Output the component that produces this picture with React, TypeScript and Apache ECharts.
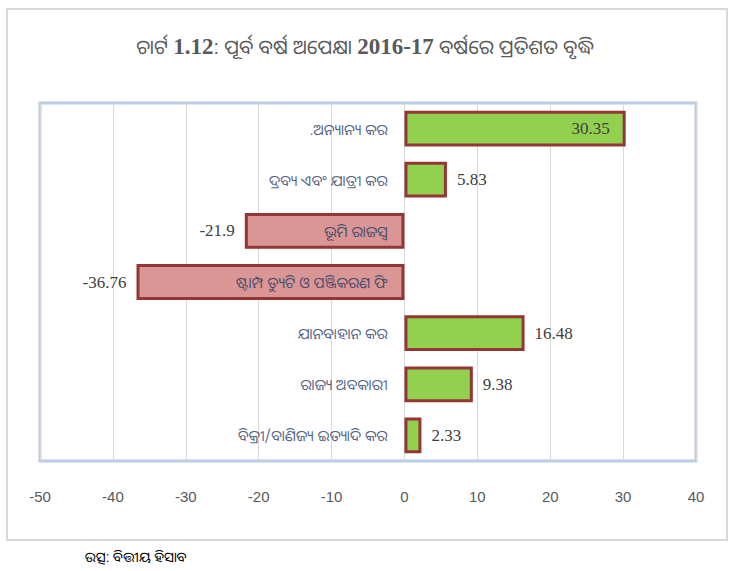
import React, { useEffect, useRef } from "react";
import * as echarts from "echarts";

const categories = [
  ".ଅନ୍ୟାନ୍ୟ କର",
  "ଦ୍ରବ୍ୟ ଏବଂ ଯାତ୍ରୀ କର",
  "ଭୂମି ରାଜସ୍ୱ",
  "ଷ୍ଟାମ୍ପ ଡ୍ୟୁଟି ଓ ପଞ୍ଜିକରଣ ଫି",
  "ଯାନବାହାନ କର",
  "ରାଜ୍ୟ ଅବକାରୀ",
  "ବିକ୍ରୀ/ବାଣିଜ୍ୟ ଇତ୍ୟାଦି କର",
];
const growth = [30.35, 5.83, -21.9, -36.76, 16.48, 9.38, 2.33];
const xTicks = { min: -50, max: 40, interval: 10 };

const ODIA_FONT = "'Noto Sans Oriya', 'Noto Sans', 'DejaVu Sans', sans-serif";

export default function App() {
  const ref = useRef<HTMLDivElement>(null);
  useEffect(() => {
    if (!ref.current) return;
    const chart = echarts.init(ref.current, null, { renderer: "svg" });
    const data = growth.map((v, i) => ({
      value: v,
      itemStyle: { color: v >= 0 ? "#92D050" : "#D99694" },
      label: {
        position: i === 0 ? "insideRight" : v >= 0 ? "right" : "left",
        distance: i === 0 ? 16 : 10,
      },
    }));
    const catLabels = categories.map((c) => [0, c]);
    chart.setOption({
      animation: false,
      backgroundColor: "#ffffff",
      title: {
        text:
          "{o|ଚାର୍ଟ }{b|1.12}{o|: ପୂର୍ବ ବର୍ଷ ଅପେକ୍ଷା }{b|2016-17}{o| ବର୍ଷରେ ପ୍ରତିଶତ ବୃଦ୍ଧି}",
        left: "center",
        top: 30,
        textStyle: {
          rich: {
            o: { fontFamily: ODIA_FONT, fontSize: 20, fontWeight: "normal", color: "#595959" },
            b: {
              fontFamily: "'Liberation Serif', 'Times New Roman', serif",
              fontSize: 23,
              fontWeight: "bold",
              color: "#595959",
            },
          },
        },
      },
      graphic: [
        {
          type: "rect",
          shape: { x: 7, y: 9, width: 720, height: 531 },
          style: { fill: "none", stroke: "#d9d9d9", lineWidth: 2 },
          silent: true,
          z: -1,
        },
        {
          type: "text",
          left: 85,
          top: 549,
          style: {
            text: "ଉତ୍ସ: ବିତ୍ତୀୟ ହିସାବ",
            fontFamily: ODIA_FONT,
            fontSize: 14,
            fill: "#000000",
          },
        },
      ],
      grid: {
        left: 40,
        right: 34,
        top: 103,
        bottom: 110,
        show: true,
        borderColor: "#b9cde5",
        borderWidth: 3,
        containLabel: false,
        outerBoundsMode: "none",
      },
      xAxis: {
        type: "value",
        min: xTicks.min,
        max: xTicks.max,
        interval: xTicks.interval,
        axisLine: { show: false },
        axisTick: { show: false },
        splitLine: { show: true, lineStyle: { color: "#d9d9d9", width: 1 } },
        axisLabel: {
          margin: 28,
          fontSize: 15,
          color: "#595959",
          fontFamily: "'Liberation Sans Narrow', 'Liberation Sans', sans-serif",
        },
      },
      yAxis: {
        type: "category",
        data: categories,
        inverse: true,
        axisLine: { show: false },
        axisTick: { show: false },
        axisLabel: { show: false },
      },
      series: [
        {
          type: "bar",
          data,
          barWidth: "70%",
          itemStyle: { borderColor: "#943634", borderWidth: 3 },
          label: {
            show: true,
            fontSize: 17,
            color: "#404040",
            fontFamily: "'Liberation Serif', 'Times New Roman', serif",
          },
        },
        {
          type: "scatter",
          data: catLabels,
          symbolSize: 0,
          z: 10,
          silent: true,
          label: {
            show: true,
            position: "left",
            distance: 17,
            formatter: (p: any) => p.value[1],
            fontSize: 15,
            color: "#1F3864",
            fontFamily: ODIA_FONT,
          },
        },
      ],
    });
    return () => chart.dispose();
  }, []);
  return (
    <div
      ref={ref}
      style={{ position: "absolute", left: 0, top: 0, width: 730, height: 571 }}
    />
  );
}
